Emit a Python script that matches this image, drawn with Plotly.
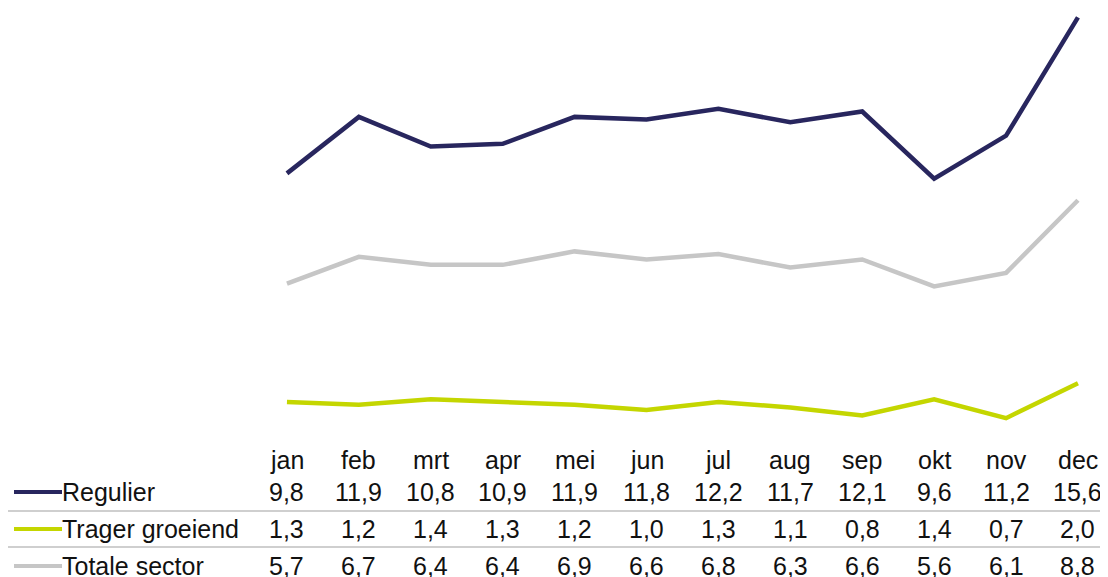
import plotly.graph_objects as go

months = ['jan', 'feb', 'mrt', 'apr', 'mei', 'jun', 'jul', 'aug', 'sep', 'okt', 'nov', 'dec']
regulier = [9.8, 11.9, 10.8, 10.9, 11.9, 11.8, 12.2, 11.7, 12.1, 9.6, 11.2, 15.6]
trager = [1.3, 1.2, 1.4, 1.3, 1.2, 1.0, 1.3, 1.1, 0.8, 1.4, 0.7, 2.0]
totaal = [5.7, 6.7, 6.4, 6.4, 6.9, 6.6, 6.8, 6.3, 6.6, 5.6, 6.1, 8.8]

series = [('Regulier', regulier, '#28265E'),
          ('Trager groeiend', trager, '#C4D600'),
          ('Totale sector', totaal, '#C6C6C6')]

# the html page puts the figure 8px in from the top-left corner
off = 8
W, H = 1108 - off, 577 - off
left, right = 243, 2
top, bottom = 0, 429          # plot area in figure pixels
ph = bottom - top
pw = W - left - right

def py(ypix):
    # page pixel row -> paper coordinate
    return (bottom - (ypix - off)) / ph

def px(xpix):
    return (xpix - off - left) / pw

xs = list(range(len(months)))
fig = go.Figure()
for name, vals, col in series:
    fig.add_trace(go.Scatter(x=xs, y=vals, mode='lines', name=name,
                             line=dict(color=col, width=4.5), hoverinfo='skip'))

font = dict(family='Arial, Liberation Sans, sans-serif', size=25, color='#111111')
ann = []
for i, m in enumerate(months):
    ann.append(dict(x=i, y=py(460), xref='x', yref='paper', text=m, showarrow=False,
                    font=font, xanchor='center', yanchor='middle'))

row_y = [492, 529, 566]
shapes = []
for (name, vals, col), ry in zip(series, row_y):
    ann.append(dict(x=px(60), y=py(ry), xref='paper', yref='paper', text=name,
                    showarrow=False, font=font, xanchor='left', yanchor='middle'))
    for i, v in enumerate(vals):
        ann.append(dict(x=i, y=py(ry), xref='x', yref='paper',
                        text=f'{v:.1f}'.replace('.', ','), showarrow=False,
                        font=font, xanchor='center', yanchor='middle'))
    shapes.append(dict(type='line', xref='paper', yref='paper',
                       x0=px(14), x1=px(62), y0=py(ry), y1=py(ry),
                       line=dict(color=col, width=4)))

for sy in [511, 547]:
    shapes.append(dict(type='line', xref='paper', yref='paper',
                       x0=px(8), x1=px(1110), y0=py(sy), y1=py(sy),
                       line=dict(color='#BFBFBF', width=1.5)))

fig.update_layout(
    width=W, height=H,
    margin=dict(l=left, r=right, t=top, b=H - bottom),
    plot_bgcolor='white', paper_bgcolor='white',
    showlegend=False,
    xaxis=dict(range=[-0.5, 11.39], visible=False),
    yaxis=dict(range=[0, 429 / 26.9], visible=False),
    annotations=ann, shapes=shapes,
)
fig.write_html("out.html")
